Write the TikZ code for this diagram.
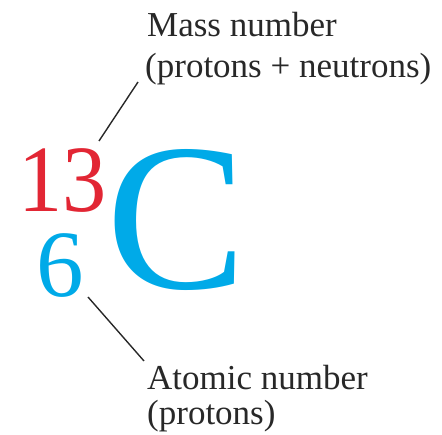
\documentclass[tikz,border=0pt]{standalone}
\usepackage{fontspec}
\setmainfont{Liberation Serif}
\usepackage{graphicx}
\definecolor{massred}{RGB}{226,38,52}
\definecolor{atomcyan}{RGB}{0,170,232}
\definecolor{labelgray}{RGB}{40,40,40}
\begin{document}
\begin{tikzpicture}[x=1pt,y=-1pt,
  lbl/.style={anchor=base west,inner sep=0pt,text=labelgray,font=\fontsize{35}{40}\selectfont},
  num/.style={anchor=base west,inner sep=0pt,text height=0.7em,text depth=0pt,font=\fontsize{95}{100}\selectfont},
  leader/.style={draw=labelgray,line width=1.4pt}]
\useasboundingbox (0,0) rectangle (442,435);
\node[lbl] (mass1) at (147,37) {Mass number};
\node[lbl] (mass2) at (145,78) {(protons + neutrons)};
\node[num,text=massred] (mass) at (18,212) {\scalebox{0.93}[1]{13}};
\node[num,text=atomcyan] (atomic) at (36,297) {6};
\node[anchor=base west,inner sep=0pt,text height=0.7em,text depth=0pt,text=atomcyan,font=\fontsize{210}{220}\selectfont] (elem) at (106,289) {C};
\node[lbl] (atom1) at (147,390) {Atomic number};
\node[lbl] (atom2) at (147,425) {(protons)};
\coordinate (m0) at (99,141);
\coordinate (m1) at (138,82);
\coordinate (a0) at (88,297);
\coordinate (a1) at (144,361);
\draw[leader] (m0) -- (m1);
\draw[leader] (a0) -- (a1);
\end{tikzpicture}
\end{document}
